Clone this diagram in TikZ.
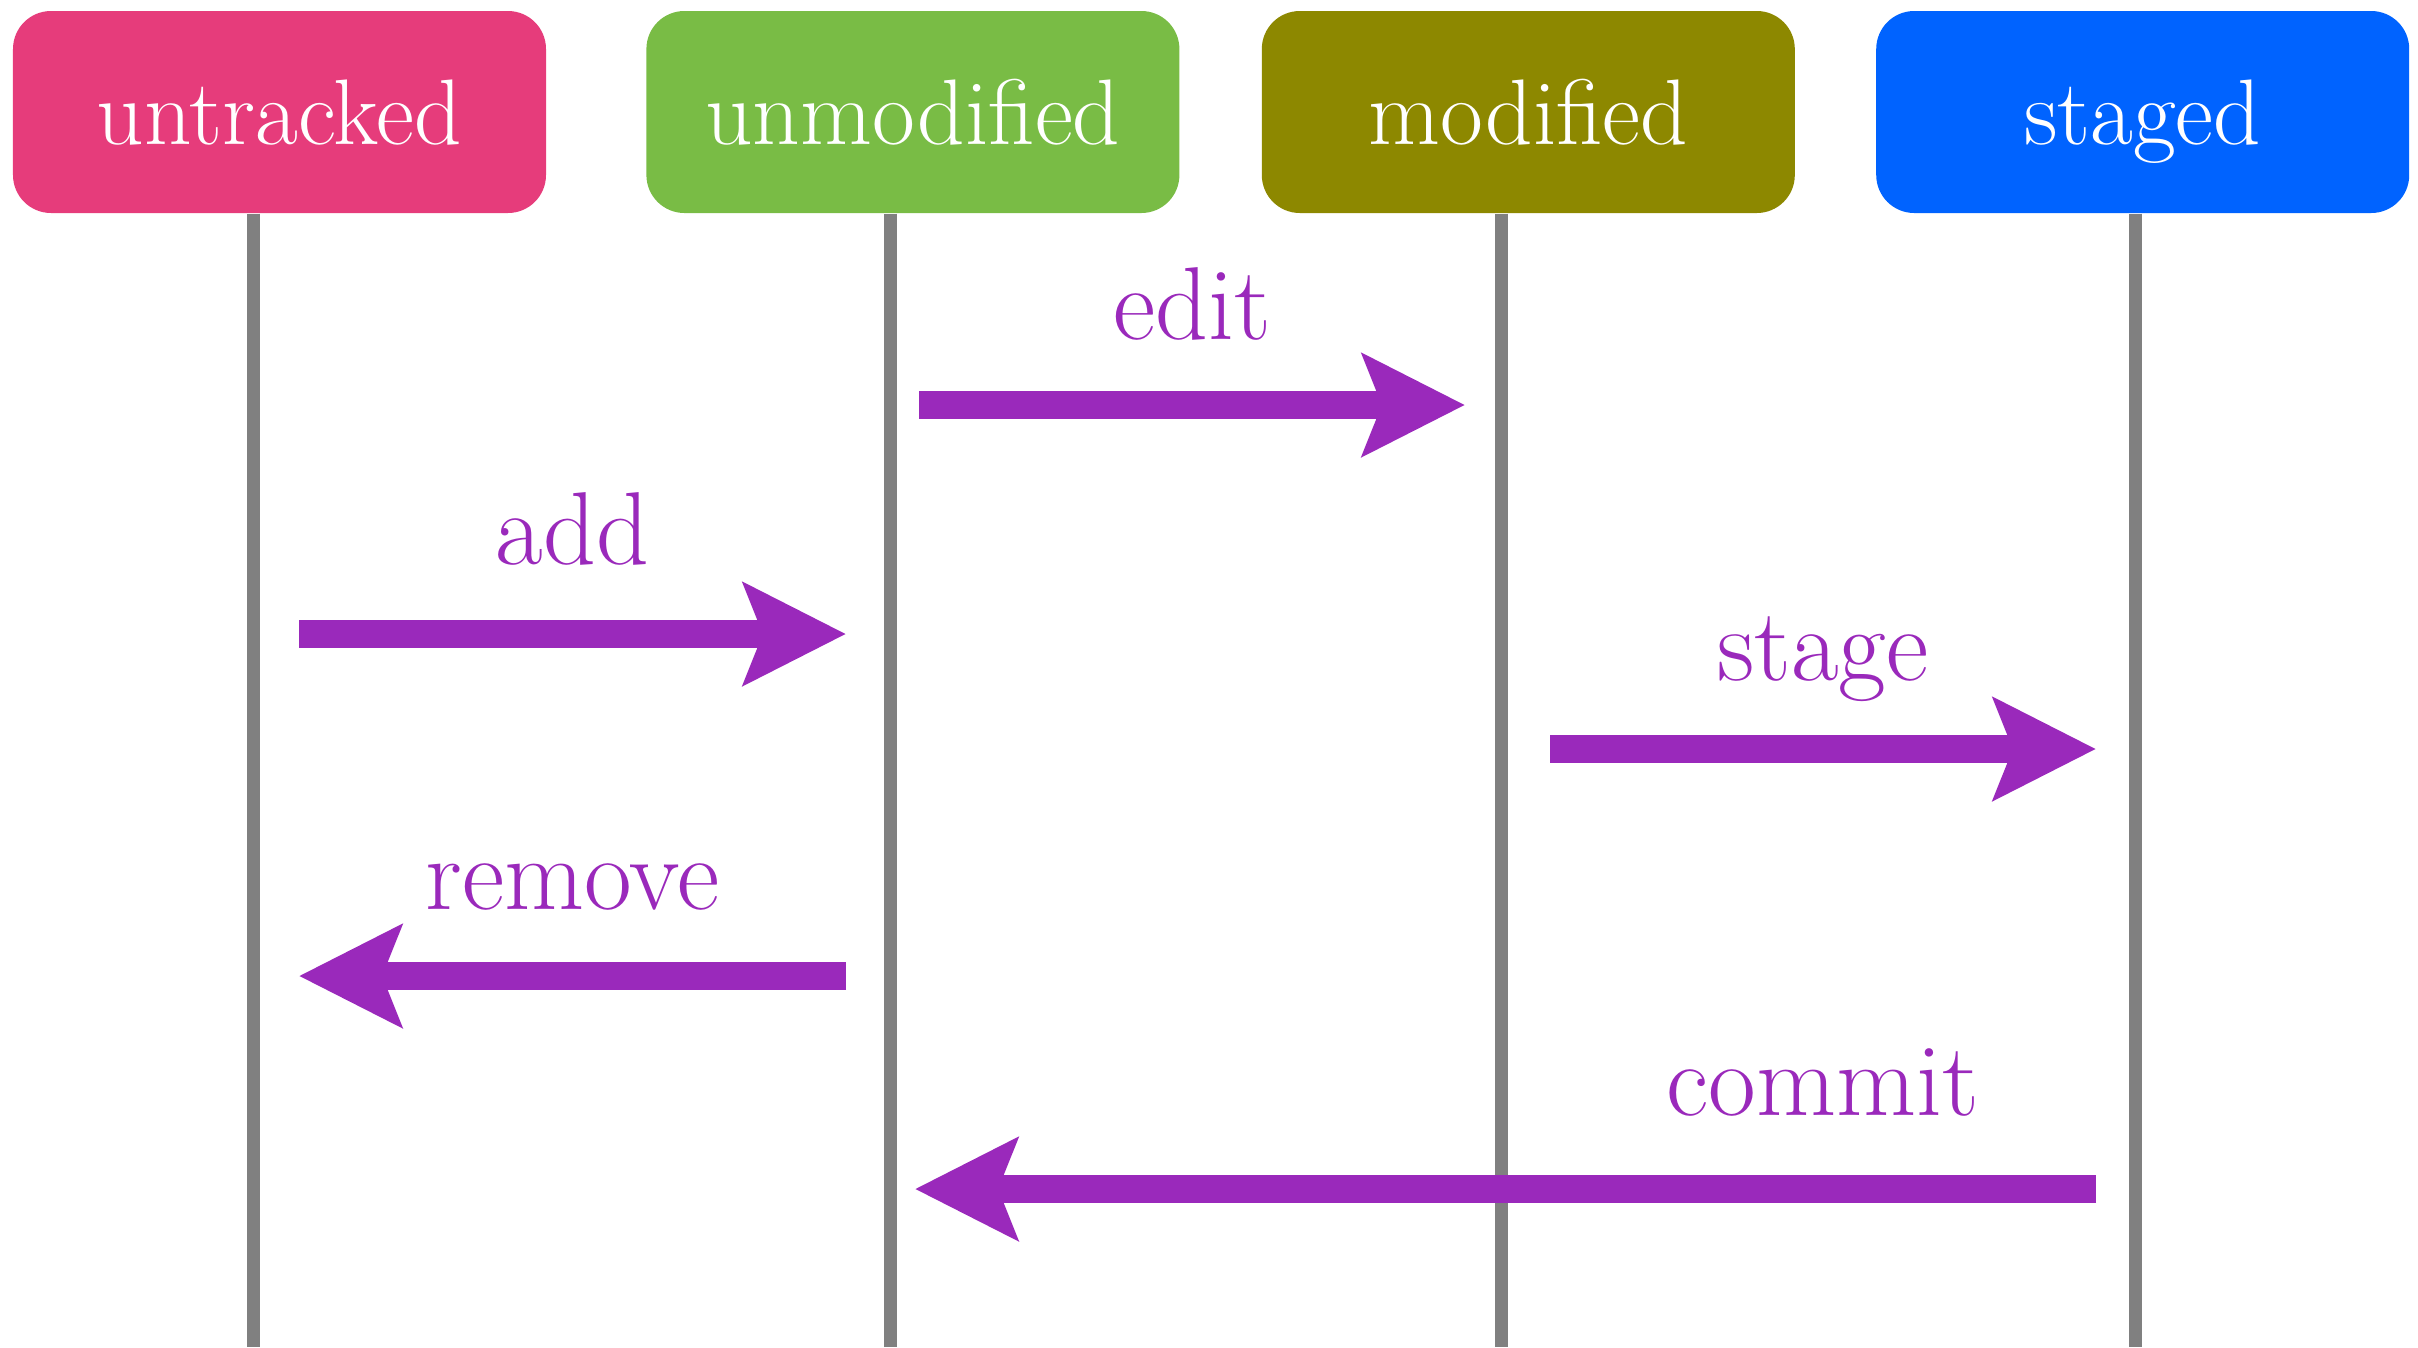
\documentclass[tikz,border=0pt]{standalone}
\usepackage{xcolor}
\usepackage{tikz}
\usetikzlibrary{positioning, arrows.meta}

\definecolor{untrackedpink}{HTML}{E63C7B}
\definecolor{unmodifiedgreen}{HTML}{79BC45}
\definecolor{modifiedolive}{HTML}{8D8800}
\definecolor{stagedblue}{HTML}{0063FF}
\definecolor{msgpurple}{HTML}{9A29BB}
\definecolor{lifegray}{HTML}{808080}

\begin{document}
\begin{tikzpicture}[node distance=0.8cm,
        state/.style={rectangle, rounded corners=3.8mm, minimum width=5.33cm, minimum height=2.02cm, inner sep=0pt, text=white, text depth=0pt, font=\fontsize{26.5}{31}\selectfont},
        lifeline/.style={draw=lifegray, line width=1.3mm},
        msg/.style={draw=msgpurple, line width=2.73mm, -{Stealth[length=10.2mm, width=10.1mm, inset=1.9mm]}},
        msglabel/.style={text=msgpurple, font=\fontsize{29.5}{34}\selectfont, anchor=base}]
        \useasboundingbox (0,0) rectangle (24.18,-13.47);

        % States
        \node (untracked) [state, fill=untrackedpink] at (2.795,-1.12) {untracked};
        \node (unmodified) [state, fill=unmodifiedgreen, right=0.99cm of untracked] {unmodified};
        \node (modified) [state, fill=modifiedolive, right=0.81cm of unmodified] {modified};
        \node (staged) [state, fill=stagedblue, right=0.80cm of modified] {staged};

        % Lifelines
        \coordinate (untracked-bottom) at (2.535,-13.47);
        \coordinate (unmodified-bottom) at (8.90,-13.47);
        \coordinate (modified-bottom) at (15.01,-13.47);
        \coordinate (staged-bottom) at (21.355,-13.47);

        \draw[lifeline] (untracked.south -| untracked-bottom) -- (untracked-bottom);
        \draw[lifeline] (unmodified.south -| unmodified-bottom) -- (unmodified-bottom);
        \draw[lifeline] (modified.south -| modified-bottom) -- (modified-bottom);
        \draw[lifeline] (staged.south -| staged-bottom) -- (staged-bottom);

        % Arrows
        \coordinate (edit-from) at (9.19,-4.05);
        \coordinate (edit-to) at (14.65,-4.05);
        \coordinate (add-from) at (2.99,-6.34);
        \coordinate (add-to) at (8.46,-6.34);
        \coordinate (stage-from) at (15.50,-7.49);
        \coordinate (stage-to) at (20.96,-7.49);
        \coordinate (remove-from) at (8.46,-9.76);
        \coordinate (remove-to) at (2.99,-9.76);
        \coordinate (commit-from) at (20.96,-11.89);
        \coordinate (commit-to) at (9.15,-11.89);

        \draw[msg] (edit-from) -- node (edit-label) [msglabel, yshift=0.66cm] {edit} (edit-to);
        \draw[msg] (add-from) -- node (add-label) [msglabel, yshift=0.70cm] {add} (add-to);
        \draw[msg] (stage-from) -- node (stage-label) [msglabel, yshift=0.69cm] {stage} (stage-to);
        \draw[msg] (remove-from) -- node (remove-label) [msglabel, yshift=0.67cm] {remove} (remove-to);
        \draw[msg] (commit-from) -- (commit-to);
        \node (commit-label) [msglabel] at (18.23,-11.15) {commit};

    \end{tikzpicture}
\end{document}
